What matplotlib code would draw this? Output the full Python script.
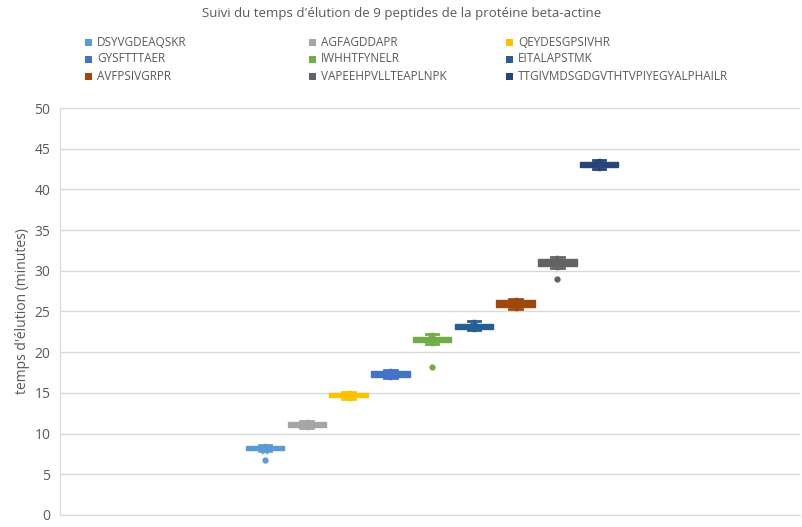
import matplotlib.pyplot as plt
from matplotlib.patches import Rectangle

plt.rcParams['font.family'] = ['Open Sans', 'DejaVu Sans']

peptides = ['DSYVGDEAQSKR', 'AGFAGDDAPR', 'QEYDESGPSIVHR',
            'GYSFTTTAER', 'IWHHTFYNELR', 'EITALAPSTMK',
            'AVFPSIVGRPR', 'VAPEEHPVLLTEAPLNPK', 'TTGIVMDSGDGVTHTVPIYEGYALPHAILR']
colors = ['#5B9BD5', '#A5A5A5', '#FFC000', '#4472C4', '#70AD47',
          '#255E91', '#9E480E', '#636363', '#264478']

# temps d'elution (minutes)
q1 = [8.0, 10.85, 14.45, 17.0, 21.2, 22.85, 25.5, 30.6, 42.75]
med = [8.2, 11.1, 14.7, 17.3, 21.5, 23.2, 25.9, 31.0, 43.1]
q3 = [8.45, 11.4, 15.0, 17.7, 21.8, 23.5, 26.4, 31.4, 43.4]
low = [7.85, 10.7, 14.2, 16.85, 21.0, 22.7, 25.25, 30.4, 42.55]
high = [8.6, 11.55, 15.15, 17.85, 22.2, 23.8, 26.55, 31.75, 43.65]
means = [7.8, 11.05, 14.7, 17.3, 21.6, 23.2, 25.9, 31.0, 43.1]
outliers = [[6.7], [], [], [], [18.2], [], [], [29.0], []]

fig = plt.figure(figsize=(8.03, 5.27), dpi=100)
ax = fig.add_axes([0.075, 0.023, 0.921, 0.772])

for i in range(len(peptides)):
    st = dict(q1=q1[i], med=med[i], q3=q3[i], whislo=low[i], whishi=high[i],
              mean=means[i], fliers=outliers[i])
    c = colors[i]
    ax.bxp([st], positions=[i + 1], widths=0.92, patch_artist=True,
           showmeans=True, capwidths=[0.3],
           boxprops=dict(facecolor=c, edgecolor=c, linewidth=1),
           medianprops=dict(color=c, linewidth=1),
           whiskerprops=dict(color=c, linewidth=2.5),
           capprops=dict(color=c, linewidth=2),
           meanprops=dict(marker='x', markeredgecolor=c, markersize=4, markeredgewidth=1.2),
           flierprops=dict(marker='o', markerfacecolor=c, markeredgecolor=c, markersize=3.5))

ax.set_xlim(-3.9, 13.8)
ax.set_ylim(0, 50)
ax.set_yticks(range(0, 51, 5))
ax.set_xticks([])
ax.yaxis.grid(True, color='#D9D9D9', linewidth=1)
ax.set_axisbelow(True)
for s in ['top', 'right']:
    ax.spines[s].set_visible(False)
ax.spines['bottom'].set_color('#D9D9D9')
ax.spines['left'].set_color('#D9D9D9')
ax.tick_params(axis='y', length=0, labelsize=10, labelcolor='#595959', pad=7)
ax.set_ylabel("temps d'élution (minutes)", fontsize=10, color='#595959', labelpad=3)

fig.text(0.5, 0.975, "Suivi du temps d'élution de 9 peptides de la protéine beta-actine",
         ha='center', va='center', fontsize=9.5, color='#595959')

# legende sur 3 colonnes
col_x = [89, 313, 510]
row_y = [42, 59, 76]
W, H = 803, 527
for i, name in enumerate(peptides):
    x = col_x[i % 3]
    y = row_y[i // 3]
    fig.patches.append(Rectangle(((x - 4) / W, 1 - (y + 4) / H), 7 / W, 7 / H,
                                 facecolor=colors[i], edgecolor='none',
                                 transform=fig.transFigure, figure=fig))
    fig.text((x + 8) / W, 1 - y / H, name, ha='left', va='center',
             fontsize=8.5, color='#595959')

fig.savefig('out.png', dpi=100)
